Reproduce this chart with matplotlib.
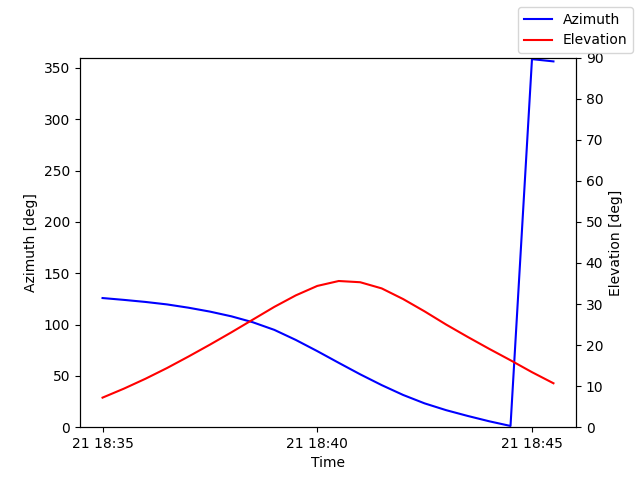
import numpy as np
import pandas as pd
import matplotlib
matplotlib.use("Agg")
import matplotlib.pyplot as plt
import matplotlib.dates as mdates

## pass samples every 30 s
times = pd.date_range("2021-03-21 18:35:00", periods=22, freq="30s")
azimuth = [125.8, 124.0, 122.0, 119.6, 116.4, 112.6, 108.0, 102.2, 94.8, 85.0,
           74.1, 62.7, 51.5, 41.0, 31.4, 23.2, 16.6, 11.0, 5.8, 1.2,
           358.5, 356.3]
elevation = [7.2, 9.4, 11.8, 14.4, 17.2, 20.1, 23.1, 26.2, 29.3, 32.1,
             34.4, 35.6, 35.3, 33.8, 31.2, 28.2, 25.0, 22.0, 19.1, 16.3,
             13.4, 10.7]

fig, ax = plt.subplots(figsize=(6.4, 4.8), dpi=100)
ax.plot(times, azimuth, color="blue", label="Azimuth")
ax.set(ylim=(0, 360), xlabel="Time", ylabel="Azimuth [deg]")

ax2 = ax.twinx()
ax2.plot(times, elevation, color="red", label="Elevation")
ax2.set(ylim=(0, 90), ylabel="Elevation [deg]")

ax.xaxis.set_major_locator(mdates.MinuteLocator(byminute=range(0, 60, 5)))
ax.xaxis.set_major_formatter(mdates.DateFormatter("%d %H:%M"))

fig.legend(loc="upper right")
fig.savefig("out.png", dpi=100)
